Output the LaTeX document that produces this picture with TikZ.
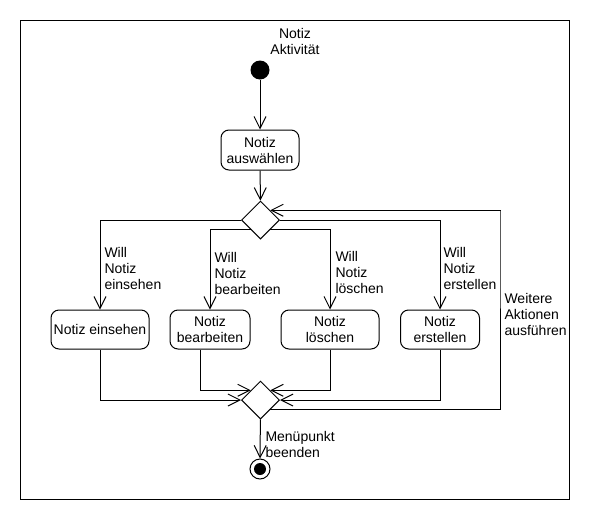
\documentclass[tikz,border=0pt]{standalone}
\usepackage{fontspec}
\setmainfont{Liberation Sans}
\usetikzlibrary{shapes.geometric,arrows.meta}
\begin{document}
\begin{tikzpicture}[x=1pt,y=-1pt, font=\fontsize{14}{16}\selectfont, line width=1pt,
  act/.style={draw, rounded corners=8pt, align=center, inner sep=0pt, minimum height=39pt},
  dec/.style={draw, diamond, aspect=1, inner sep=0pt, minimum width=38pt, minimum height=38pt},
  flow/.style={-{Straight Barb[length=12pt,width=12pt]}},
  lab/.style={anchor=north west, inner sep=0pt, align=left}]
\useasboundingbox (0,0) rectangle (600,520);
\draw (20,20) rectangle (569,499);
\node[circle, fill, inner sep=0pt, minimum size=19pt] (start) at (260,70) {};
\node[act, minimum width=78pt, minimum height=40pt] (sel) at (260,150) {Notiz\\auswählen};
\node[dec] (d1) at (260.5,220) {};
\node[act, minimum width=98pt] (ein) at (100,329.5) {Notiz einsehen};
\node[act, minimum width=80pt] (bea) at (210,329.5) {Notiz\\bearbeiten};
\node[act, minimum width=98pt] (loe) at (330,329.5) {Notiz\\löschen};
\node[act, minimum width=79pt] (ers) at (440,329.5) {Notiz\\erstellen};
\node[dec] (d2) at (260.5,400) {};
\node[circle, draw, minimum size=20pt, inner sep=0pt,
  path picture={\fill (path picture bounding box.center) circle (6pt);}] (end) at (260,469) {};
\coordinate (lp) at (500,210);
\draw[flow] (start) -- (sel);
\draw[flow] (sel) -- (d1);
\draw[flow] (d1.west) -| (ein.north);
\draw[flow] (d1.south west) -| (bea.north);
\draw[flow] (d1.south east) -| (loe.north);
\draw[flow] (d1.east) -| (ers.north);
\draw[flow] (ein.south) |- (d2.west);
\draw[flow] ([xshift=-10pt]bea.south) |- (d2.north west);
\draw[flow] (loe.south) |- (d2.north east);
\draw[flow] (ers.south) |- (d2.east);
\draw[flow] (d2.south east) -| (lp) |- (d1.north east);
\draw[flow] (d2) -- (end);
\node[anchor=north, inner sep=0pt, align=center] (title) at (295,28) {Notiz\\Aktivität};
\node[lab] (l1) at (104,247) {Will\\Notiz\\einsehen};
\node[lab] (l2) at (214,252) {Will\\Notiz\\bearbeiten};
\node[lab] (l3) at (335,250.5) {Will\\Notiz\\löschen};
\node[lab] (l4) at (443,247) {Will\\Notiz\\erstellen};
\node[lab] (l5) at (504,293) {Weitere\\Aktionen\\ausführen};
\node[lab] (l6) at (265,431) {Menüpunkt\\beenden};
\end{tikzpicture}
\end{document}
